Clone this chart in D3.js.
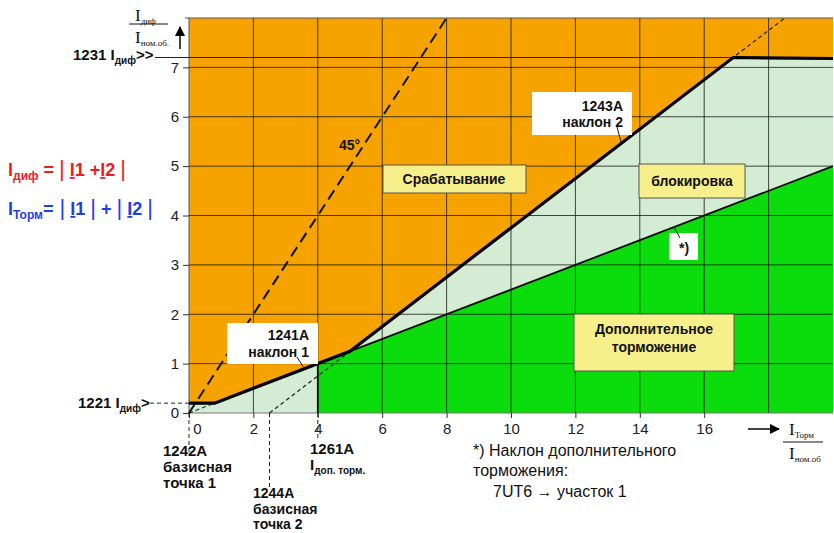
<!DOCTYPE html>
<html><head><meta charset="utf-8">
<script src="https://cdn.jsdelivr.net/npm/d3@7"></script>
<style>
body{margin:0;background:#fff;}
svg{display:block;}
text{font-family:"Liberation Sans",Arial,sans-serif;}
.serif{font-family:"Liberation Serif","Times New Roman",serif;}
</style></head>
<body>
<svg id="c" width="834" height="533"></svg>
<script>
// ---------- data ----------
const xDomain = [0, 20];
const yDomain = [0, 8];
const xTicks = [0, 2, 4, 6, 8, 10, 12, 14, 16];
const xGrid = [2, 4, 6, 8, 10, 12, 14, 16, 18];
const yTicks = [0, 1, 2, 3, 4, 5, 6, 7];
const yGrid = [1, 2, 3, 4, 5, 6, 7];
const tripCurve = [[0, 0.2], [0.8, 0.2], [5, 1.25], [16.9, 7.2], [20, 7.18]];
const addStabLine = [[4, 1], [20, 5]];
const addStabLeft = [[4, 0], [4, 1]];
const slope1Dashed = [[0, 0], [0.8, 0.2]];
const slope2Dashed = [[2.5, 0], [18.5, 8]];
const line45 = [[0, 0], [8, 8]];
const idiffPickup = 0.2;
const idiffHigh = 7.2;
const basePoint1 = 0, basePoint2 = 2.5, addStabStart = 4;

// ---------- setup ----------
const svg = d3.select("#c");
const x = d3.scaleLinear().domain(xDomain).range([189, 833]);
const y = d3.scaleLinear().domain(yDomain).range([413, 18]);
const line = d3.line().x(d => x(d[0])).y(d => y(d[1]));
const C = {orange: "#f6a300", light: "#d3ecd3", green: "#0bdc0b", yellow: "#f6ef8a", red: "#ee1c24", blue: "#1f3fe6"};

// regions
svg.append("rect").attr("x", x(0)).attr("y", y(8)).attr("width", x(20) - x(0)).attr("height", y(0) - y(8)).attr("fill", C.orange);
const lightPoly = [[0, 0]].concat(tripCurve, [[20, 0]]);
svg.append("path").attr("d", line(lightPoly) + "Z").attr("fill", C.light);
const greenPoly = addStabLeft.concat([addStabLine[1], [20, 0]]);
svg.append("path").attr("d", line(greenPoly) + "Z").attr("fill", C.green);

// grid
svg.append("g").selectAll("line").data(xGrid).join("line")
  .attr("x1", d => x(d)).attr("x2", d => x(d)).attr("y1", y(0)).attr("y2", y(8))
  .attr("stroke", "#1a1a1a").attr("stroke-width", 1).attr("opacity", 0.8);
svg.append("g").selectAll("line").data(yGrid).join("line")
  .attr("x1", x(0)).attr("x2", x(20)).attr("y1", d => y(d)).attr("y2", d => y(d))
  .attr("stroke", "#1a1a1a").attr("stroke-width", 1).attr("opacity", 0.8);
// frame
svg.append("line").attr("x1", x(0) - 4).attr("x2", x(20)).attr("y1", y(8)).attr("y2", y(8)).attr("stroke", "#555");
svg.append("line").attr("x1", x(0)).attr("x2", x(0)).attr("y1", y(8)).attr("y2", y(0)).attr("stroke", "#555");
svg.append("line").attr("x1", x(0)).attr("x2", x(20)).attr("y1", y(0)).attr("y2", y(0)).attr("stroke", "#777");

// axes
const yAxis = svg.append("g").attr("transform", `translate(${x(0)},0)`)
  .call(d3.axisLeft(y).tickValues(yTicks).tickSize(6).tickPadding(4).tickFormat(d3.format("d")));
yAxis.select(".domain").remove();
yAxis.selectAll("text").attr("font-size", 15).attr("fill", "#222").attr("font-family", "Liberation Sans, Arial, sans-serif");
yAxis.selectAll("line").attr("stroke", "#333");
const xAxis = svg.append("g").attr("transform", `translate(0,${y(0)})`)
  .call(d3.axisBottom(x).tickValues(xTicks).tickSize(5).tickPadding(5).tickFormat(d3.format("d")));
xAxis.select(".domain").remove();
xAxis.selectAll("text").attr("font-size", 15).attr("fill", "#222").attr("font-family", "Liberation Sans, Arial, sans-serif")
  .attr("dx", d => d === 0 ? 8 : 0);
xAxis.selectAll("line").attr("stroke", "#333");

// reference lines
svg.append("line").attr("x1", 155).attr("x2", x(20)).attr("y1", y(idiffHigh)).attr("y2", y(idiffHigh)).attr("stroke", "#222").attr("stroke-width", 1.2);
svg.append("line").attr("x1", 150).attr("x2", x(0)).attr("y1", y(idiffPickup)).attr("y2", y(idiffPickup)).attr("stroke", "#222").attr("stroke-dasharray", "4,3");
svg.append("line").attr("x1", x(basePoint1)).attr("x2", x(basePoint1)).attr("y1", y(0)).attr("y2", 455).attr("stroke", "#222").attr("stroke-dasharray", "4,3");
svg.append("line").attr("x1", x(basePoint2)).attr("x2", x(basePoint2)).attr("y1", y(0)).attr("y2", 487).attr("stroke", "#222").attr("stroke-dasharray", "4,3");
svg.append("line").attr("x1", x(addStabStart)).attr("x2", x(addStabStart)).attr("y1", y(0)).attr("y2", 440).attr("stroke", "#222").attr("stroke-dasharray", "4,3");

// curves
svg.append("path").attr("d", line(slope2Dashed)).attr("fill", "none").attr("stroke", "#222").attr("stroke-width", 1.2).attr("stroke-dasharray", "4,3");
svg.append("path").attr("d", line(slope1Dashed)).attr("fill", "none").attr("stroke", "#222").attr("stroke-width", 1.2).attr("stroke-dasharray", "4,3");
svg.append("path").attr("d", line(line45)).attr("fill", "none").attr("stroke", "#111").attr("stroke-width", 2).attr("stroke-dasharray", "11,6");
svg.append("path").attr("d", line(addStabLine)).attr("fill", "none").attr("stroke", "#111").attr("stroke-width", 1.8);
svg.append("path").attr("d", line(addStabLeft)).attr("fill", "none").attr("stroke", "#111").attr("stroke-width", 1.8);
svg.append("path").attr("d", line(tripCurve)).attr("fill", "none").attr("stroke", "#000").attr("stroke-width", 3.2);

// arrows
svg.append("defs").append("marker").attr("id", "ah").attr("viewBox", "0 0 10 10").attr("refX", 9).attr("refY", 5)
  .attr("markerWidth", 7).attr("markerHeight", 7).attr("orient", "auto")
  .append("path").attr("d", "M0,0L10,5L0,10Z").attr("fill", "#000");
svg.append("line").attr("x1", 180).attr("x2", 180).attr("y1", 49).attr("y2", 27).attr("stroke", "#000").attr("stroke-width", 1.5).attr("marker-end", "url(#ah)");
svg.append("line").attr("x1", 748).attr("x2", 779).attr("y1", 429).attr("y2", 429).attr("stroke", "#000").attr("stroke-width", 1.5).attr("marker-end", "url(#ah)");

// axis labels (fractions)
function frac(cx, numY, lineY, denY, x1, x2, numSub, denSub) {
  const g = svg.append("g");
  const t1 = g.append("text").attr("class", "serif").attr("x", cx).attr("y", numY).attr("font-size", 17).attr("fill", "#111");
  t1.append("tspan").text("I");
  t1.append("tspan").attr("font-size", 9).attr("dy", 3).text(numSub);
  g.append("line").attr("x1", x1).attr("x2", x2).attr("y1", lineY).attr("y2", lineY).attr("stroke", "#111").attr("stroke-width", 1);
  const t2 = g.append("text").attr("class", "serif").attr("x", cx).attr("y", denY).attr("font-size", 17).attr("fill", "#111");
  t2.append("tspan").text("I");
  t2.append("tspan").attr("font-size", 9).attr("dy", 3).text(denSub);
}
frac(135, 21, 24, 43, 129, 168, "диф", "ном.об.");
frac(789, 435, 442, 459, 783, 823, "Торм", "ном.об");

// labels left of axis
function subLabel(xp, yp, main, sub, tail, anchor) {
  const t = svg.append("text").attr("x", xp).attr("y", yp).attr("font-size", 15).attr("font-weight", "bold").attr("fill", "#111");
  if (anchor) t.attr("text-anchor", anchor);
  t.append("tspan").text(main);
  t.append("tspan").attr("font-size", 10).attr("dy", 4).text(sub);
  if (tail) t.append("tspan").attr("dy", -4).attr("font-size", 15).text(tail);
  return t;
}
subLabel(73, 60, "1231  I", "диф", ">>");
subLabel(78, 408, "1221  I", "диф", ">");

// bottom annotations
function multi(xp, yp, lines, size, weight, dy) {
  const t = svg.append("text").attr("x", xp).attr("y", yp).attr("font-size", size).attr("font-weight", weight).attr("fill", "#111");
  lines.forEach((l, i) => t.append("tspan").attr("x", xp).attr("dy", i ? dy : 0).text(l));
  return t;
}
multi(163, 456, ["1242A", "базисная", "точка 1"], 15, "bold", 16);
multi(253, 498, ["1244A", "базисная", "точка 2"], 14, "bold", 15.5);
multi(310, 454, ["1261A"], 15, "bold", 16);
subLabel(310, 470, "I", "доп. торм.", null);
multi(473, 456, ["*) Наклон дополнительного", "торможения:"], 16, "normal", 19.5);
multi(493, 497, ["7UT6 \u2192 участок 1"], 16, "normal", 19);

// formulas
function formula(yp, color, parts) {
  const t = svg.append("text").attr("x", 8).attr("y", yp).attr("fill", color).attr("font-size", 18).attr("font-weight", "bold");
  parts.forEach(p => {
    const s = t.append("tspan").text(p.t);
    if (p.sub) s.attr("font-size", 12).attr("dy", 4);
    if (p.up) s.attr("dy", -4);
    if (p.thin) s.attr("font-weight", "normal").attr("font-size", 22);
    if (p.u) s.attr("text-decoration", "underline");
  });
}
formula(176, C.red, [{t: "I"}, {t: "диф", sub: 1}, {t: " = ", up: 1}, {t: "|", thin: 1}, {t: " "}, {t: "I", u: 1}, {t: "1 +"}, {t: "I", u: 1}, {t: "2 "}, {t: "|", thin: 1}]);
formula(215, C.blue, [{t: "I"}, {t: "Торм", sub: 1}, {t: "=", up: 1}, {t: " |", thin: 1}, {t: " "}, {t: "I", u: 1}, {t: "1 "}, {t: "|", thin: 1}, {t: " + "}, {t: "|", thin: 1}, {t: " "}, {t: "I", u: 1}, {t: "2 "}, {t: "|", thin: 1}]);

// 45° label
svg.append("text").attr("x", 339).attr("y", 150).attr("font-size", 14).attr("font-weight", "bold").attr("fill", "#111").text("45°");

// boxes
function box(x0, y0, w, h, fill, lines, tx, ty, anchor, dy) {
  svg.append("rect").attr("x", x0).attr("y", y0).attr("width", w).attr("height", h).attr("fill", fill).attr("stroke", fill === "#fff" ? "none" : "#555").attr("stroke-width", 1);
  const t = svg.append("text").attr("x", tx).attr("y", ty).attr("font-size", 14).attr("font-weight", "bold").attr("fill", "#111").attr("text-anchor", anchor);
  lines.forEach((l, i) => t.append("tspan").attr("x", tx).attr("dy", i ? dy : 0).text(l));
}
box(383, 165, 143, 28, C.yellow, ["Срабатывание"], 454, 184, "middle", 0);
box(639, 164, 106, 34, C.yellow, ["блокировка"], 692, 186, "middle", 0);
box(574, 314, 160, 57, C.yellow, ["Дополнительное", "торможение"], 654, 334, "middle", 18);
box(227, 323, 91, 41, "#fff", ["1241A", "наклон 1"], 309, 340, "end", 17);
box(532, 92, 100, 43, "#fff", ["1243A", "наклон 2"], 623, 111, "end", 16);
box(669, 233, 29, 27, "#fff", ["*)"], 684, 253, "middle", 0);
// leaders
svg.append("line").attr("x1", 297).attr("y1", 357).attr("x2", 303).attr("y2", y(1) + 3).attr("stroke", "#111");
svg.append("line").attr("x1", 617).attr("y1", 127).attr("x2", 621).attr("y2", 142).attr("stroke", "#111");
svg.append("line").attr("x1", 674).attr("y1", 227).attr("x2", 680).attr("y2", 238).attr("stroke", "#111");
</script>
</body></html>
